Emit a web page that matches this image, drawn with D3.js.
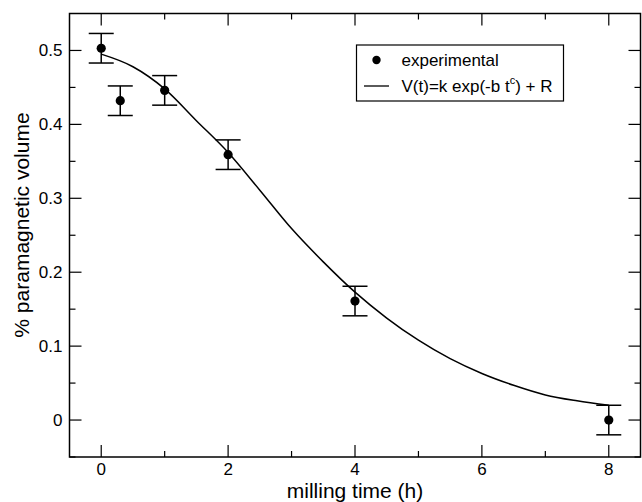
<!DOCTYPE html>
<html>
<head>
<meta charset="utf-8">
<script src="https://cdn.jsdelivr.net/npm/d3@7"></script>
<style>
  body { margin: 0; background: #fff; }
  svg text { font-family: "Liberation Sans", Arial, sans-serif; fill: #000; }
</style>
</head>
<body>
<div id="chart"></div>
<script>
// measured points (milling time in hours, paramagnetic volume fraction)
const timeH = [0, 0.3, 1, 2, 4, 8];
const volume = [0.503, 0.432, 0.446, 0.359, 0.161, 0.0];
const errorBar = [0.02, 0.02, 0.02, 0.02, 0.02, 0.02];

// fitted curve
const fitTime = [0, 0.5, 1, 1.5, 2, 2.5, 3, 3.5, 4, 4.5, 5, 5.5, 6, 6.5, 7, 7.5, 8];
const fitVolume = [0.495, 0.478, 0.448, 0.405, 0.362, 0.311, 0.259, 0.214, 0.173, 0.138, 0.108, 0.083, 0.063, 0.047, 0.034, 0.026, 0.020];

const xTicks = [0, 2, 4, 6, 8];
const xMinor = [1, 3, 5, 7];
const yTicks = [0, 0.1, 0.2, 0.3, 0.4, 0.5];
const yMinor = [-0.05, 0.05, 0.15, 0.25, 0.35, 0.45];

const width = 642, height = 502;
const margin = {top: 13.5, right: 1.5, bottom: 45, left: 69.5};

let svg = d3.select('#chart').append('svg')
    .attr('width', width)
    .attr('height', height)

let xScale = d3.scaleLinear()
    .domain([-0.5, 8.5])
    .range([margin.left, width - margin.right])

let yScale = d3.scaleLinear()
    .domain([-0.05, 0.55])
    .range([height - margin.bottom, margin.top])

let x0 = margin.left, x1 = width - margin.right
let y0 = height - margin.bottom, y1 = margin.top
const majorLen = 12, minorLen = 6

// tick marks on all four sides, pointing inward
let ticks = svg.append('g').attr('id', 'ticks').attr('stroke', '#000').attr('stroke-width', 1.2)
xTicks.concat(xMinor).forEach(t => {
    let len = xTicks.includes(t) ? majorLen : minorLen
    ticks.append('line').attr('x1', xScale(t)).attr('x2', xScale(t)).attr('y1', y0).attr('y2', y0 - len)
    ticks.append('line').attr('x1', xScale(t)).attr('x2', xScale(t)).attr('y1', y1).attr('y2', y1 + len)
})
yTicks.concat(yMinor).forEach(v => {
    let len = yTicks.includes(v) ? majorLen : minorLen
    ticks.append('line').attr('y1', yScale(v)).attr('y2', yScale(v)).attr('x1', x0).attr('x2', x0 + len)
    ticks.append('line').attr('y1', yScale(v)).attr('y2', yScale(v)).attr('x1', x1).attr('x2', x1 - len)
})

// frame
svg.append('rect')
    .attr('x', x0).attr('y', y1)
    .attr('width', x1 - x0).attr('height', y0 - y1)
    .attr('fill', 'none').attr('stroke', '#000').attr('stroke-width', 1.5)

// tick labels
svg.append('g').selectAll('text').data(xTicks).enter().append('text')
    .attr('x', d => xScale(d)).attr('y', y0 + 18)
    .attr('text-anchor', 'middle').style('font-size', '17px')
    .text(d => d)

svg.append('g').selectAll('text').data(yTicks).enter().append('text')
    .attr('x', x0 - 7).attr('y', d => yScale(d) + 6)
    .attr('text-anchor', 'end').style('font-size', '17px')
    .text(d => d3.format('~g')(d))

// axis titles
svg.append('text').text('milling time (h)')
    .attr('x', xScale(4)).attr('y', 497.5)
    .attr('text-anchor', 'middle').style('font-size', '21px')

svg.append('text').text('% paramagnetic volume')
    .attr('transform', 'translate(29,225) rotate(-90)')
    .attr('text-anchor', 'middle').style('font-size', '21px')

// fit curve
let line = d3.line()
    .x((d, i) => xScale(fitTime[i]))
    .y(d => yScale(d))
    .curve(d3.curveMonotoneX)

svg.append('path').datum(fitVolume)
    .attr('d', line)
    .attr('fill', 'none').attr('stroke', '#000').attr('stroke-width', 1.5)

// error bars
let capHalf = 12.5
let errs = svg.append('g').attr('stroke', '#000').attr('stroke-width', 1.5)
timeH.forEach((t, i) => {
    let cx = xScale(t)
    let top = yScale(volume[i] + errorBar[i]), bot = yScale(volume[i] - errorBar[i])
    errs.append('line').attr('x1', cx).attr('x2', cx).attr('y1', top).attr('y2', bot)
    errs.append('line').attr('x1', cx - capHalf).attr('x2', cx + capHalf).attr('y1', top).attr('y2', top)
    errs.append('line').attr('x1', cx - capHalf).attr('x2', cx + capHalf).attr('y1', bot).attr('y2', bot)
})

// points
svg.append('g').selectAll('circle').data(volume).enter().append('circle')
    .attr('cx', (d, i) => xScale(timeH[i]))
    .attr('cy', d => yScale(d))
    .attr('r', 4.6)
    .attr('fill', '#000')

// legend
let legend = svg.append('g').attr('id', 'legend')
legend.append('rect')
    .attr('x', 356.5).attr('y', 45).attr('width', 207).attr('height', 56)
    .attr('fill', '#fff').attr('stroke', '#000').attr('stroke-width', 1.2)
legend.append('circle').attr('cx', 376.5).attr('cy', 60).attr('r', 4.2).attr('fill', '#000')
legend.append('line').attr('x1', 364).attr('x2', 389).attr('y1', 86).attr('y2', 86)
    .attr('stroke', '#000').attr('stroke-width', 1.3)
legend.append('text').text('experimental')
    .attr('x', 401.5).attr('y', 66).style('font-size', '17px')
let fitLabel = legend.append('text').attr('x', 401.5).attr('y', 92).style('font-size', '17px')
fitLabel.append('tspan').text('V(t)=k exp(-b t')
fitLabel.append('tspan').text('c').attr('dy', -8).style('font-size', '11px')
fitLabel.append('tspan').text(') + R').attr('dy', 8)
</script>
</body>
</html>
